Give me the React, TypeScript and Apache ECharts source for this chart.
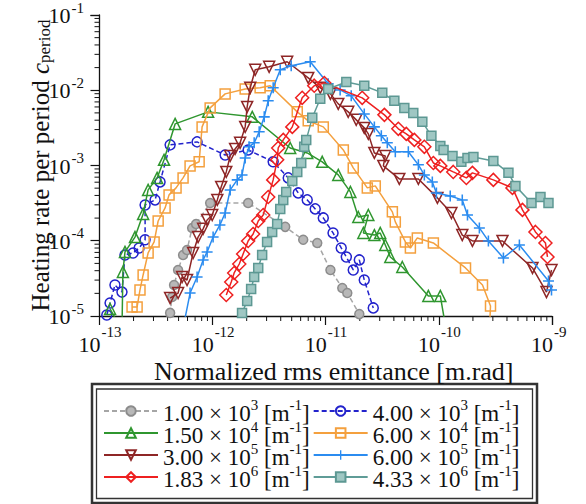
import React, { useEffect, useRef } from "react";
import * as echarts from "echarts";

const X_MIN = 1e-13;
const X_MAX = 1e-9;
const Y_MIN = 1e-5;
const Y_MAX = 1e-1;
const MAJOR_X = [1e-13, 1e-12, 1e-11, 1e-10, 1e-9];
const MAJOR_Y = [1e-5, 1e-4, 1e-3, 1e-2, 1e-1];
const MINOR_MULT = [2, 3, 4, 5, 6, 7, 8, 9];
const X_DECADES = [1e-13, 1e-12, 1e-11, 1e-10];
const Y_DECADES = [1e-5, 1e-4, 1e-3, 1e-2];

const LEGEND_MANT = ["1.00", "4.00", "1.50", "6.00", "3.00", "6.00", "1.83", "4.33"];
const LEGEND_EXP = ["3", "3", "4", "4", "5", "5", "6", "6"];
const SERIES_NAMES = LEGEND_MANT.map((m, i) => `${m}e${LEGEND_EXP[i]}`);

const S_1_00e3 = [
  [4.04e-13, 6.5e-6], [4.21e-13, 1.10e-5], [4.38e-13, 1.79e-5], [4.56e-13, 2.58e-5], [4.95e-13, 4.09e-5],
  [5.48e-13, 6.47e-5], [5.94e-13, 7.55e-5], [6.59e-13, 1.48e-4], [7.14e-13, 1.67e-4], [9.51e-13, 3.18e-4],
  [2.06e-12, 3.18e-4], [4.38e-12, 1.53e-4], [6.32e-12, 1.03e-4], [8.41e-12, 9.35e-5], [1.10e-11, 4.09e-5],
  [1.40e-11, 2.36e-5], [1.55e-11, 2.02e-5], [1.98e-11, 1.06e-5],
];
const S_4_00e3 = [
  [1.16e-13, 1.03e-5], [1.24e-13, 1.49e-5], [1.37e-13, 2.58e-5], [1.58e-13, 2.08e-5], [1.68e-13, 6.47e-5],
  [1.98e-13, 6.88e-5], [2.24e-13, 8.02e-5], [2.53e-13, 1.03e-4], [2.53e-13, 2.99e-4], [3.10e-13, 3.49e-4],
  [3.43e-13, 6.05e-4], [4.21e-13, 1.88e-3], [7.29e-13, 2.06e-3], [1.29e-12, 1.38e-3], [2.06e-12, 1.61e-3],
  [3.43e-12, 1.12e-3], [4.66e-12, 6.84e-4], [5.71e-12, 4.32e-4], [6.86e-12, 3.49e-4], [8.07e-12, 2.65e-4],
  [9.51e-12, 2.01e-4], [1.16e-11, 1.27e-4], [1.37e-11, 8.02e-5], [1.52e-11, 6.09e-5], [1.75e-11, 4.09e-5],
  [1.98e-11, 5.56e-5], [2.19e-11, 3.01e-5], [2.63e-11, 1.28e-5],
];
const S_1_50e4 = [
  [1.24e-13, 1.24e-5], [1.58e-13, 6.5e-6], [1.61e-13, 3.85e-5], [1.68e-13, 7.10e-5], [2.06e-13, 1.12e-4],
  [2.43e-13, 2.27e-4], [2.69e-13, 4.74e-4], [3.23e-13, 6.84e-4], [3.72e-13, 1.19e-3], [4.66e-13, 3.57e-3],
  [9.12e-13, 5.16e-3], [2.24e-12, 4.43e-3], [4.85e-12, 1.71e-3], [6.86e-12, 1.47e-3], [9.31e-12, 1.12e-3],
  [1.29e-11, 7.50e-4], [1.65e-11, 4.46e-4], [1.94e-11, 2.07e-4], [2.38e-11, 2.20e-4], [2.15e-11, 1.27e-4],
  [2.69e-11, 1.19e-4], [3.03e-11, 1.27e-4], [3.36e-11, 8.79e-5], [3.72e-11, 6.09e-5], [4.75e-11, 4.48e-5],
  [8.07e-11, 1.85e-5], [1.03e-10, 1.85e-5], [1.16e-10, 6.5e-6],
];
const S_6_00e4 = [
  [1.94e-13, 1.32e-5], [2.15e-13, 1.32e-5], [2.28e-13, 2.22e-5], [2.43e-13, 3.51e-5], [2.69e-13, 6.88e-5],
  [3.04e-13, 9.64e-5], [3.30e-13, 1.83e-4], [3.80e-13, 2.73e-4], [4.12e-13, 4.07e-4], [4.75e-13, 5.04e-4],
  [5.48e-13, 6.84e-4], [6.32e-13, 9.88e-4], [7.60e-13, 1.12e-3], [8.07e-13, 3.26e-3], [9.51e-13, 5.83e-3],
  [1.29e-12, 8.95e-3], [1.94e-12, 1.04e-2], [2.63e-12, 1.08e-2], [3.23e-12, 1.15e-2], [5.60e-12, 5.16e-3],
  [7.00e-12, 3.92e-3], [9.51e-12, 3.26e-3], [1.43e-11, 1.61e-3], [1.75e-11, 9.29e-4], [2.33e-11, 5.04e-4],
  [2.74e-11, 5.36e-4], [3.88e-11, 2.42e-4], [4.12e-11, 1.78e-4], [5.06e-11, 9.64e-5], [5.60e-11, 8.02e-5],
  [6.45e-11, 1.09e-4], [8.94e-11, 9.35e-5], [1.72e-10, 4.35e-5], [2.43e-10, 2.58e-5], [2.86e-10, 1.36e-5],
  [2.80e-10, 6.5e-6],
];
const S_3_00e5 = [
  [4.21e-13, 1.73e-5], [4.95e-13, 2.02e-5], [5.37e-13, 3.30e-5], [5.94e-13, 3.01e-5], [6.72e-13, 6.88e-5],
  [7.44e-13, 1.12e-4], [8.24e-13, 1.44e-4], [8.94e-13, 1.89e-4], [9.91e-13, 2.20e-4], [1.10e-12, 3.49e-4],
  [1.19e-12, 5.19e-4], [1.32e-12, 8.22e-4], [1.43e-12, 1.34e-3], [1.58e-12, 1.66e-3], [1.75e-12, 2.00e-3],
  [1.94e-12, 3.26e-3], [2.02e-12, 6.01e-3], [2.15e-12, 1.08e-2], [2.38e-12, 1.87e-2], [3.16e-12, 2.05e-2],
  [4.56e-12, 2.39e-2], [7.00e-12, 1.46e-2], [8.94e-12, 1.08e-2], [1.10e-11, 8.95e-3], [1.29e-11, 6.59e-3],
  [1.58e-11, 5.16e-3], [1.86e-11, 4.04e-3], [2.19e-11, 3.16e-3], [2.38e-11, 2.63e-3], [2.69e-11, 1.47e-3],
  [3.36e-11, 1.34e-3], [3.23e-11, 9.88e-4], [4.47e-11, 6.63e-4], [6.59e-11, 6.63e-4], [9.71e-11, 3.71e-4],
  [1.29e-10, 2.34e-4], [1.61e-10, 1.19e-4], [1.98e-10, 9.94e-5], [3.65e-10, 9.94e-5], [6.72e-10, 4.35e-5],
  [8.94e-10, 2.08e-5], [9.9e-10, 4.09e-5],
];
const S_6_00e5 = [
  [5.71e-13, 9.4e-6], [6.32e-13, 2.02e-5], [7.29e-13, 3.30e-5], [8.24e-13, 5.56e-5], [8.94e-13, 7.10e-5],
  [1.01e-12, 1.12e-4], [1.16e-12, 1.62e-4], [1.29e-12, 2.34e-4], [1.43e-12, 4.74e-4], [1.65e-12, 6.44e-4],
  [1.82e-12, 7.50e-4], [1.94e-12, 1.26e-3], [2.10e-12, 1.77e-3], [2.33e-12, 2.00e-3], [2.58e-12, 2.80e-3],
  [2.86e-12, 4.43e-3], [3.10e-12, 7.23e-3], [3.43e-12, 1.08e-2], [3.96e-12, 1.87e-2], [4.95e-12, 2.11e-2],
  [7.29e-12, 2.39e-2], [1.05e-11, 1.22e-2], [1.34e-11, 1.01e-2], [1.68e-11, 8.43e-3], [2.19e-11, 4.85e-3],
  [2.69e-11, 3.26e-3], [3.10e-11, 2.48e-3], [3.50e-11, 2.00e-3], [4.12e-11, 1.52e-3], [5.37e-11, 1.52e-3],
  [6.59e-11, 1.02e-3], [7.44e-11, 7.50e-4], [8.75e-11, 6.05e-4], [9.51e-11, 4.32e-4], [1.26e-10, 3.94e-4],
  [1.61e-10, 3.49e-4], [1.79e-10, 2.20e-4], [2.28e-10, 1.48e-4], [2.74e-10, 9.94e-5], [3.72e-10, 5.91e-5],
  [5.15e-10, 8.79e-5], [9.31e-10, 2.92e-5], [9.9e-10, 2.22e-5],
];
const S_1_83e6 = [
  [1.32e-12, 1.90e-5], [1.46e-12, 2.83e-5], [1.55e-12, 3.73e-5], [1.72e-12, 4.91e-5], [1.86e-12, 6.67e-5],
  [2.06e-12, 9.94e-5], [2.28e-12, 1.23e-4], [2.53e-12, 1.83e-4], [2.80e-12, 2.20e-4], [3.10e-12, 3.82e-4],
  [3.43e-12, 6.44e-4], [3.72e-12, 1.19e-3], [3.80e-12, 1.71e-3], [4.21e-12, 2.19e-3], [5.06e-12, 3.26e-3],
  [6.19e-12, 7.93e-3], [7.91e-12, 1.15e-2], [9.71e-12, 1.25e-2], [2.10e-11, 7.93e-3], [3.30e-11, 4.71e-3],
  [4.38e-11, 3.07e-3], [5.15e-11, 2.63e-3], [6.07e-11, 2.19e-3], [7.44e-11, 1.77e-3], [8.94e-11, 1.08e-3],
  [1.03e-10, 9.88e-4], [1.34e-10, 8.22e-4], [1.75e-10, 6.84e-4], [1.98e-10, 7.98e-4], [3.03e-10, 6.44e-4],
  [4.47e-10, 5.04e-4], [5.48e-10, 2.57e-4], [7.14e-10, 1.31e-4], [8.75e-10, 9.35e-5], [9.12e-10, 6.09e-5],
];
const S_4_33e6 = [
  [1.82e-12, 1.10e-5], [2.02e-12, 1.58e-5], [2.19e-12, 2.29e-5], [2.33e-12, 3.30e-5], [2.53e-12, 4.35e-5],
  [2.74e-12, 6.47e-5], [3.03e-12, 9.64e-5], [3.36e-12, 1.31e-4], [3.72e-12, 1.67e-4], [3.96e-12, 2.65e-4],
  [4.21e-12, 3.49e-4], [4.47e-12, 4.46e-4], [5.06e-12, 6.24e-4], [5.60e-12, 8.22e-4], [6.07e-12, 1.08e-3],
  [6.45e-12, 1.77e-3], [6.72e-12, 2.19e-3], [7.60e-12, 4.30e-3], [8.94e-12, 7.69e-3], [1.05e-11, 1.04e-2],
  [1.52e-11, 1.29e-2], [2.19e-11, 1.15e-2], [3.16e-11, 9.23e-3], [4.04e-11, 7.23e-3], [4.95e-11, 5.83e-3],
  [5.94e-11, 5.00e-3], [7.14e-11, 3.80e-3], [8.59e-11, 2.48e-3], [1.03e-10, 1.82e-3], [1.10e-10, 1.61e-3],
  [1.32e-10, 1.34e-3], [1.58e-10, 1.12e-3], [1.79e-10, 1.26e-3], [2.02e-10, 1.30e-3], [3.03e-10, 1.15e-3],
  [4.12e-10, 7.98e-4], [4.75e-10, 5.36e-4], [6.59e-10, 3.18e-4], [7.91e-10, 3.82e-4], [9.31e-10, 3.18e-4],
];

const FONT = "Liberation Serif";
const PLUS = "path://M4.3,0H5.7V4.3H10V5.7H5.7V10H4.3V5.7H0V4.3H4.3Z";

const SERIES_STYLE = [
  { data: S_1_00e3, color: "#a6a6a6", symbol: "circle", size: 9, dashed: true, fill: "#b8b8b8", border: "#8c8c8c" },
  { data: S_4_00e3, color: "#2323cc", symbol: "circle", size: 10, dashed: true, fill: "rgba(0,0,0,0)" },
  { data: S_1_50e4, color: "#2f962f", symbol: "triangle", size: 11, dashed: false, fill: "rgba(0,0,0,0)" },
  { data: S_6_00e4, color: "#f4a03e", symbol: "rect", size: 10, dashed: false, fill: "rgba(0,0,0,0)" },
  { data: S_3_00e5, color: "#8e2626", symbol: "triangle", size: 11, dashed: false, fill: "rgba(0,0,0,0)", rotate: 180 },
  { data: S_6_00e5, color: "#2b8cf0", symbol: PLUS, size: 11, dashed: false, fill: "#2b8cf0", border: "#2b8cf0", bw: 0 },
  { data: S_1_83e6, color: "#ee2020", symbol: "diamond", size: 13, dashed: false, fill: "rgba(0,0,0,0)" },
  { data: S_4_33e6, color: "#5f9c97", symbol: "rect", size: 9, dashed: false, fill: "#9fc7c3", border: "#5d9893" },
];

function expOf(v: number) {
  return Math.round(Math.log10(v));
}

export default function App() {
  const ref = useRef<HTMLDivElement>(null);
  useEffect(() => {
    if (!ref.current) return;
    const chart = echarts.init(ref.current, undefined, { renderer: "svg" });

    const minorX: number[][] = [];
    X_DECADES.forEach((d) => MINOR_MULT.forEach((m) => minorX.push([m * d, Y_MIN])));
    const minorY: number[][] = [];
    Y_DECADES.forEach((d) => MINOR_MULT.forEach((m) => minorY.push([X_MIN, m * d])));
    const labelX = MAJOR_X.map((v) => [v, Y_MIN]);
    const labelY = MAJOR_Y.map((v) => [X_MIN, v]);

    const bigFont = `22px "${FONT}"`;
    const supFont = `15px "${FONT}"`;

    const lineSeries = SERIES_STYLE.map((s, i) => ({
      type: "line",
      name: SERIES_NAMES[i],
      data: s.data,
      symbol: s.symbol,
      symbolSize: s.size,
      symbolRotate: s.rotate || 0,
      showSymbol: true,
      clip: true,
      lineStyle: { color: s.color, width: 1.5, type: s.dashed ? [5, 3] : "solid" },
      itemStyle: {
        color: s.fill,
        borderColor: s.border || s.color,
        borderWidth: s.bw === undefined ? 1.5 : s.bw,
      },
      z: 3 + i,
    }));

    const option: any = {
      animation: false,
      backgroundColor: "#fff",
      grid: { left: 99.5, right: 34, top: 15, bottom: 188, containLabel: false },
      xAxis: {
        type: "log",
        logBase: 10,
        min: X_MIN,
        max: X_MAX,
        splitLine: { show: false },
        axisLine: { show: true, lineStyle: { color: "#111", width: 1.3 } },
        axisTick: { show: true, inside: false, length: 9, lineStyle: { color: "#111", width: 1.2 } },
        minorTick: { show: false },
        axisLabel: { show: false },
        name: "Normalized rms emittance [m.rad]",
        nameLocation: "middle",
        nameGap: 42,
        nameTextStyle: { fontFamily: FONT, fontSize: 26, color: "#111", padding: [0, 0, 0, 16] },
      },
      yAxis: {
        type: "log",
        logBase: 10,
        min: Y_MIN,
        max: Y_MAX,
        splitLine: { show: false },
        axisLine: { show: true, lineStyle: { color: "#111", width: 1.3 } },
        axisTick: { show: true, inside: false, length: 9, lineStyle: { color: "#111", width: 1.2 } },
        minorTick: { show: false },
        axisLabel: { show: false },
        name: "{n|Heating rate per period }{c|c}{sub|period}",
        nameLocation: "middle",
        nameRotate: 90,
        nameGap: 47,
        nameTextStyle: {
          rich: {
            n: { fontFamily: FONT, fontSize: 25, lineHeight: 25, color: "#111", verticalAlign: "top" },
            c: { fontFamily: FONT, fontSize: 25, lineHeight: 25, color: "#111", fontStyle: "italic", verticalAlign: "top" },
            sub: { fontFamily: FONT, fontSize: 17, lineHeight: 17, color: "#111", verticalAlign: "bottom", padding: [20, 0, 0, 0] },
          },
        },
      },
      legend: {
        data: SERIES_NAMES,
        orient: "horizontal",
        left: 103,
        top: 397,
        width: 430,
        itemWidth: 54,
        itemHeight: 12,
        itemGap: -6,
        padding: 0,
        formatter: (name: string) => {
          const i = SERIES_NAMES.indexOf(name);
          return `{n|${LEGEND_MANT[i]} × 10}{s|${LEGEND_EXP[i]}}{n| [m}{s|-1}{n|]}{g|}`;
        },
        textStyle: {
          rich: {
            n: { fontFamily: FONT, fontSize: 23, lineHeight: 28, color: "#111", verticalAlign: "bottom" },
            s: { fontFamily: FONT, fontSize: 15, lineHeight: 15, color: "#111", verticalAlign: "top" },
            g: { width: 9, lineHeight: 10 },
          },
        },
      },
      graphic: [
        { type: "rect", shape: { x: 92, y: 384, width: 445, height: 119 }, style: { fill: "none", stroke: "#333", lineWidth: 2.5 }, silent: true },
        { type: "rect", shape: { x: 96.5, y: 389, width: 436, height: 109.5 }, style: { fill: "none", stroke: "#333", lineWidth: 1.3 }, silent: true },
      ],
      series: [
        ...lineSeries,
        {
          type: "custom",
          silent: true,
          data: minorX,
          renderItem: (_p: any, api: any) => {
            const p = api.coord([api.value(0), api.value(1)]);
            return { type: "line", shape: { x1: p[0], y1: p[1], x2: p[0], y2: p[1] + 5 }, style: { stroke: "#111", lineWidth: 1 } };
          },
        },
        {
          type: "custom",
          silent: true,
          data: minorY,
          renderItem: (_p: any, api: any) => {
            const p = api.coord([api.value(0), api.value(1)]);
            return { type: "line", shape: { x1: p[0] - 5, y1: p[1], x2: p[0], y2: p[1] }, style: { stroke: "#111", lineWidth: 1 } };
          },
        },
        {
          type: "custom",
          silent: true,
          data: labelX,
          renderItem: (_p: any, api: any) => {
            const v = api.value(0);
            const p = api.coord([v, api.value(1)]);
            return {
              type: "group",
              children: [
                { type: "text", x: p[0] + 1, y: p[1] + 28, style: { text: "10", font: bigFont, fill: "#111", textAlign: "right", textVerticalAlign: "middle" } },
                { type: "text", x: p[0] + 2, y: p[1] + 16, style: { text: String(expOf(v)), font: supFont, fill: "#111", textAlign: "left", textVerticalAlign: "middle" } },
              ],
            };
          },
        },
        {
          type: "custom",
          silent: true,
          data: labelY,
          renderItem: (_p: any, api: any) => {
            const v = api.value(1);
            const p = api.coord([api.value(0), v]);
            return {
              type: "group",
              children: [
                { type: "text", x: p[0] - 29, y: p[1] + 0.5, style: { text: "10", font: bigFont, fill: "#111", textAlign: "right", textVerticalAlign: "middle" } },
                { type: "text", x: p[0] - 28, y: p[1] - 7.5, style: { text: String(expOf(v)), font: supFont, fill: "#111", textAlign: "left", textVerticalAlign: "middle" } },
              ],
            };
          },
        },
      ],
    };
    chart.setOption(option);
    return () => chart.dispose();
  }, []);
  return <div ref={ref} style={{ position: "absolute", left: 0, top: 0, width: 586, height: 504 }} />;
}
